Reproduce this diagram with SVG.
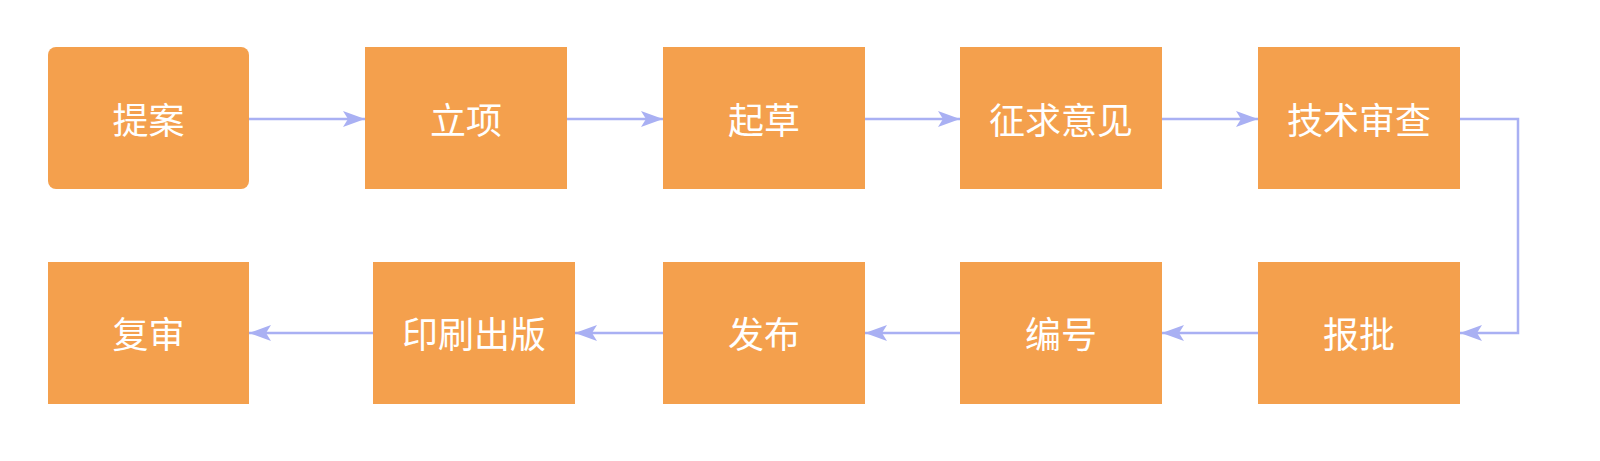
<svg xmlns="http://www.w3.org/2000/svg" width="1600" height="461" viewBox="0 0 1600 461">
<style>
.n{fill:#f4a04d}
.t{fill:#fff;font-family:"Noto Sans CJK SC",sans-serif;font-size:36px;text-anchor:middle;dominant-baseline:central}
.c{fill:none;stroke:#a9b0f3;stroke-width:2.5}
</style>
<defs><marker id="a" viewBox="0 0 22 16" refX="22" refY="8" markerWidth="22" markerHeight="16" markerUnits="userSpaceOnUse" orient="auto"><path d="M0 0L22 8L0 16L5 8Z" fill="#a9b0f3"/></marker></defs>
<rect width="1600" height="461" fill="#fff"/>
<g id="connectors">
<path class="c" marker-end="url(#a)" d="M249 119H365"/>
<path class="c" marker-end="url(#a)" d="M567 119H663"/>
<path class="c" marker-end="url(#a)" d="M865 119H960"/>
<path class="c" marker-end="url(#a)" d="M1162 119H1258"/>
<path class="c" marker-end="url(#a)" d="M1460 119H1518V333H1460"/>
<path class="c" marker-end="url(#a)" d="M1258 333H1162"/>
<path class="c" marker-end="url(#a)" d="M960 333H865"/>
<path class="c" marker-end="url(#a)" d="M663 333H575"/>
<path class="c" marker-end="url(#a)" d="M373 333H249"/>
</g>
<g id="n1"><rect class="n" x="48" y="47" width="201" height="142" rx="8"/><text class="t" x="148.5" y="118">提案</text></g>
<g id="n2"><rect class="n" x="365" y="47" width="202" height="142"/><text class="t" x="466" y="118">立项</text></g>
<g id="n3"><rect class="n" x="663" y="47" width="202" height="142"/><text class="t" x="764" y="118">起草</text></g>
<g id="n4"><rect class="n" x="960" y="47" width="202" height="142"/><text class="t" x="1061" y="118">征求意见</text></g>
<g id="n5"><rect class="n" x="1258" y="47" width="202" height="142"/><text class="t" x="1359" y="118">技术审查</text></g>
<g id="n6"><rect class="n" x="1258" y="262" width="202" height="142"/><text class="t" x="1359" y="332">报批</text></g>
<g id="n7"><rect class="n" x="960" y="262" width="202" height="142"/><text class="t" x="1061" y="332">编号</text></g>
<g id="n8"><rect class="n" x="663" y="262" width="202" height="142"/><text class="t" x="764" y="332">发布</text></g>
<g id="n9"><rect class="n" x="373" y="262" width="202" height="142"/><text class="t" x="474" y="332">印刷出版</text></g>
<g id="n10"><rect class="n" x="48" y="262" width="201" height="142"/><text class="t" x="148.5" y="332">复审</text></g>
</svg>
